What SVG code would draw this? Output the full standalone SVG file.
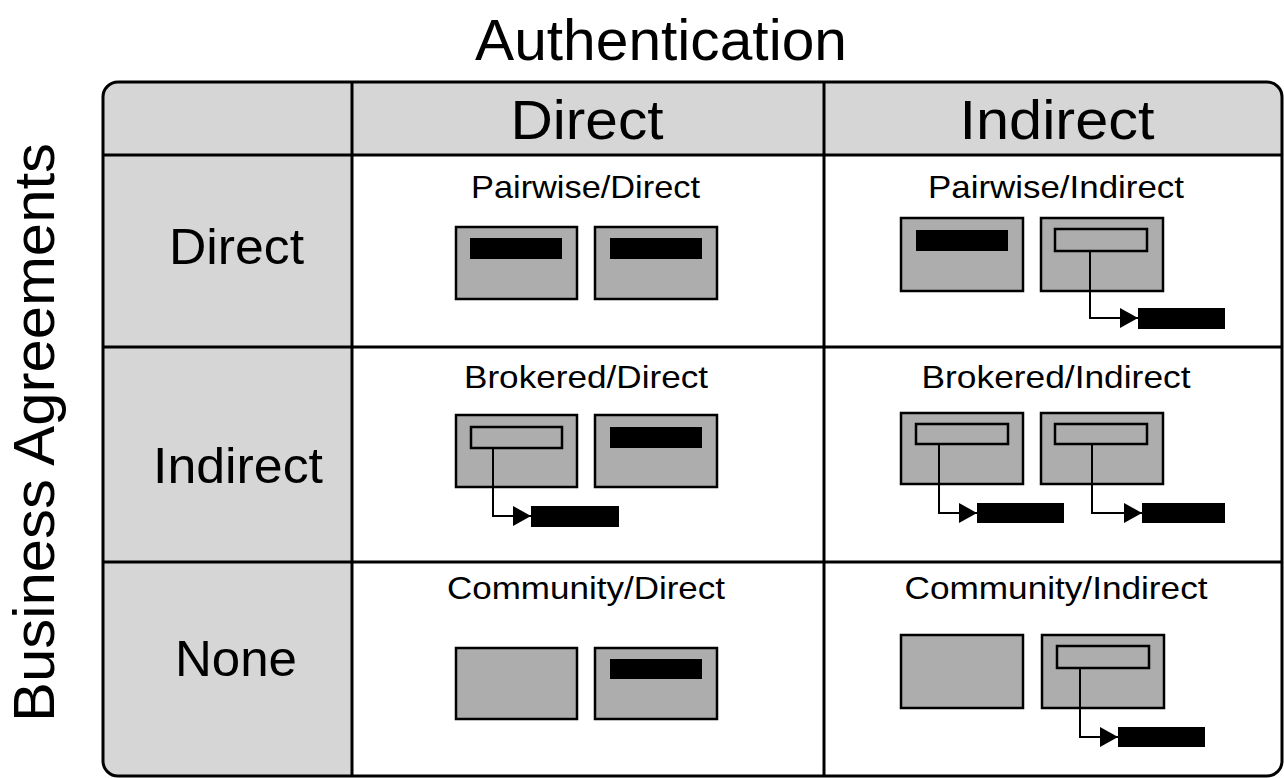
<svg xmlns="http://www.w3.org/2000/svg" width="1284" height="778" viewBox="0 0 1284 778">
  <style>
    text { font-family: "Liberation Sans", Arial, sans-serif; fill: #000; }
    .title { font-size: 57px; }
    .head { font-size: 55px; text-anchor: middle; }
    .row { font-size: 50px; text-anchor: middle; }
    .cell { font-size: 32px; text-anchor: middle; }
    .grid { stroke: #000; stroke-width: 3; fill: none; }
    .box { fill: #adadad; stroke: #000; stroke-width: 2.5; }
    .slot { fill: #adadad; stroke: #000; stroke-width: 2.5; }
    .bar { fill: #000; }
    .link { fill: none; stroke: #000; stroke-width: 2; }
  </style>
  <defs>
    <clipPath id="frameClip">
      <rect x="103" y="82" width="1179" height="694" rx="15"/>
    </clipPath>
    <marker id="arrow" markerUnits="userSpaceOnUse" markerWidth="18" markerHeight="20" refX="18" refY="10" orient="auto">
      <path d="M0,0 L18,10 L0,20 z" fill="#000"/>
    </marker>
  </defs>

  <rect width="1284" height="778" fill="#fff"/>

  <!-- axis titles -->
  <text id="title-auth" class="title" x="475" y="60" textLength="372" lengthAdjust="spacingAndGlyphs">Authentication</text>
  <text id="title-business" class="title" transform="translate(54,722) rotate(-90)" x="0" y="0" textLength="579" lengthAdjust="spacingAndGlyphs">Business Agreements</text>

  <!-- table frame -->
  <g id="table">
    <g clip-path="url(#frameClip)">
      <rect x="90" y="70" width="1200" height="720" fill="#d6d6d6"/>
      <rect x="352" y="155" width="940" height="640" fill="#fff"/>
    </g>
    <rect class="grid" x="103" y="82" width="1179" height="694" rx="15"/>
    <line class="grid" x1="103" y1="155" x2="1282" y2="155"/>
    <line class="grid" x1="103" y1="347" x2="1282" y2="347"/>
    <line class="grid" x1="103" y1="562" x2="1282" y2="562"/>
    <line class="grid" x1="352" y1="82" x2="352" y2="776"/>
    <line class="grid" x1="824" y1="82" x2="824" y2="776"/>
  </g>

  <!-- headers -->
  <g id="col-direct"><text class="head" x="587" y="139" textLength="153" lengthAdjust="spacingAndGlyphs">Direct</text></g>
  <g id="col-indirect"><text class="head" x="1057" y="139" textLength="195" lengthAdjust="spacingAndGlyphs">Indirect</text></g>
  <g id="row-direct"><text class="row" x="236.5" y="264" textLength="135" lengthAdjust="spacingAndGlyphs">Direct</text></g>
  <g id="row-indirect"><text class="row" x="238" y="483" textLength="170" lengthAdjust="spacingAndGlyphs">Indirect</text></g>
  <g id="row-none"><text class="row" x="236" y="676" textLength="122" lengthAdjust="spacingAndGlyphs">None</text></g>

  <!-- Pairwise/Direct -->
  <g id="pairwise-direct">
    <text class="cell" x="585.5" y="198" textLength="229" lengthAdjust="spacingAndGlyphs">Pairwise/Direct</text>
    <rect class="box" x="456" y="227" width="121" height="72"/>
    <rect class="bar" x="470" y="238" width="92" height="21"/>
    <rect class="box" x="595" y="227" width="122" height="72"/>
    <rect class="bar" x="610" y="238" width="92" height="21"/>
  </g>

  <!-- Pairwise/Indirect -->
  <g id="pairwise-indirect">
    <text class="cell" x="1056" y="198" textLength="256" lengthAdjust="spacingAndGlyphs">Pairwise/Indirect</text>
    <rect class="box" x="901" y="218" width="122" height="73"/>
    <rect class="bar" x="916" y="230" width="92" height="21"/>
    <rect class="box" x="1041" y="218" width="122" height="73"/>
    <rect class="slot" x="1055" y="229" width="92" height="22"/>
    <rect class="bar" x="1138" y="308" width="87" height="21"/>
  </g>

  <!-- Brokered/Direct -->
  <g id="brokered-direct">
    <text class="cell" x="586" y="388" textLength="244" lengthAdjust="spacingAndGlyphs">Brokered/Direct</text>
    <rect class="box" x="456" y="415" width="121" height="72"/>
    <rect class="slot" x="471" y="427" width="91" height="21"/>
    <rect class="box" x="595" y="415" width="122" height="72"/>
    <rect class="bar" x="610" y="427" width="92" height="21"/>
    <rect class="bar" x="531" y="506" width="88" height="21"/>
  </g>

  <!-- Brokered/Indirect -->
  <g id="brokered-indirect">
    <text class="cell" x="1056" y="388" textLength="269" lengthAdjust="spacingAndGlyphs">Brokered/Indirect</text>
    <rect class="box" x="901" y="413" width="122" height="71"/>
    <rect class="slot" x="916" y="424" width="92" height="20"/>
    <rect class="box" x="1041" y="413" width="122" height="71"/>
    <rect class="slot" x="1055" y="424" width="92" height="20"/>
    <rect class="bar" x="977" y="503" width="87" height="20"/>
    <rect class="bar" x="1142" y="503" width="83" height="20"/>
  </g>

  <!-- Community/Direct -->
  <g id="community-direct">
    <text class="cell" x="586" y="599" textLength="278" lengthAdjust="spacingAndGlyphs">Community/Direct</text>
    <rect class="box" x="456" y="648" width="121" height="71"/>
    <rect class="box" x="595" y="648" width="122" height="71"/>
    <rect class="bar" x="610" y="659" width="92" height="20"/>
  </g>

  <!-- Community/Indirect -->
  <g id="community-indirect">
    <text class="cell" x="1056" y="599" textLength="303" lengthAdjust="spacingAndGlyphs">Community/Indirect</text>
    <rect class="box" x="901" y="635" width="122" height="73"/>
    <rect class="box" x="1042" y="635" width="122" height="73"/>
    <rect class="slot" x="1057" y="646" width="92" height="22"/>
    <rect class="bar" x="1118" y="727" width="87" height="20"/>
  </g>

  <!-- connectors from slots to external bars -->
  <g id="connectors">
    <path class="link" d="M1090,251 V318 H1138" marker-end="url(#arrow)"/>
    <path class="link" d="M493,448 V516 H531" marker-end="url(#arrow)"/>
    <path class="link" d="M939,444 V513 H977" marker-end="url(#arrow)"/>
    <path class="link" d="M1092,444 V513 H1142" marker-end="url(#arrow)"/>
    <path class="link" d="M1080,668 V737 H1118" marker-end="url(#arrow)"/>
  </g>
</svg>
